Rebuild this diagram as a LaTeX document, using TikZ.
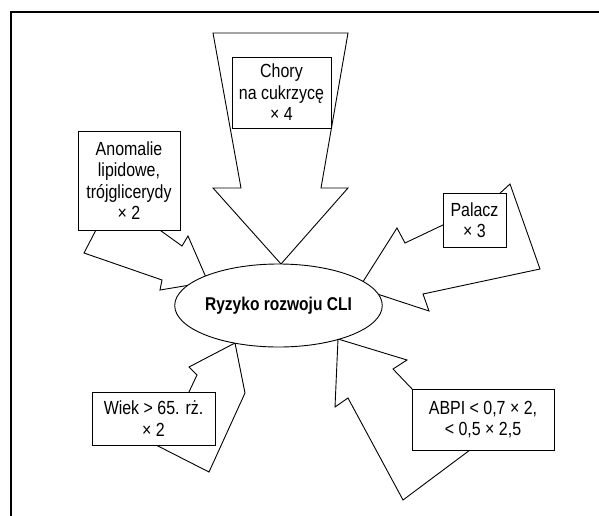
\documentclass[tikz,border=0pt]{standalone}
\usepackage{fontspec}
\setmainfont{Liberation Sans}[FakeStretch=0.84]
\usetikzlibrary{shapes.geometric}

\begin{document}
\begin{tikzpicture}[x=1pt, y=-1pt, line width=0.9pt,
    arr/.style={draw, fill=white},
    box/.style={draw, fill=white, inner sep=0pt, align=center, font=\fontsize{19}{21.5}\selectfont}]
    \useasboundingbox (0, 0) rectangle (599, 516);
    \draw[line width=1.8pt] (11, 516) -- (11, 12) -- (599, 12);

    \draw[arr] (213, 33) -- (348, 33) -- (321, 188) -- (348, 188) -- (281, 264) -- (213, 188) -- (241, 188) -- cycle;
    \draw[arr] (97, 228) -- (84, 253) -- (162, 280) -- (160, 290) -- (208, 282) -- (188, 236) -- (182, 246) -- (157, 228) -- cycle;
    \draw[arr] (445, 224) -- (405, 243) -- (397, 228) -- (359, 288) -- (429, 311) -- (423, 294) -- (540, 269) -- (510, 184) -- (497, 196) -- cycle;
    \draw[arr] (188, 394) -- (197, 375) -- (189, 367) -- (235, 343) -- (245, 393) -- (209, 472) -- (152, 443) -- cycle;
    \draw[arr] (414, 391) -- (393, 369) -- (407, 360) -- (338, 339) -- (335, 407) -- (348, 398) -- (403, 500) -- (474, 447) -- cycle;

    \node[draw, ellipse, fill=white, inner sep=0pt, minimum width=162, minimum height=83, font=\bfseries\fontsize{18.5}{22}\selectfont] (risk) at (278.5, 305.5) {Ryzyko rozwoju CLI};
    \node[box, minimum width=99, minimum height=71] (diab) at (281.5, 92.5) {Chory\\na cukrzycę\\× 4};
    \node[box, minimum width=102, minimum height=99] (lipid) at (129, 180.5) {Anomalie\\lipidowe,\\trójglicerydy\\× 2};
    \node[box, minimum width=63, minimum height=54] (smoke) at (474.5, 220) {Palacz\\× 3};
    \node[box, minimum width=123, minimum height=53] (age) at (153.5, 418.5) {Wiek > 65. rż.\\× 2};
    \node[box, minimum width=142, minimum height=61] (abpi) at (483, 419.5) {ABPI < 0,7 × 2,\\< 0,5 × 2,5};
\end{tikzpicture}
\end{document}
